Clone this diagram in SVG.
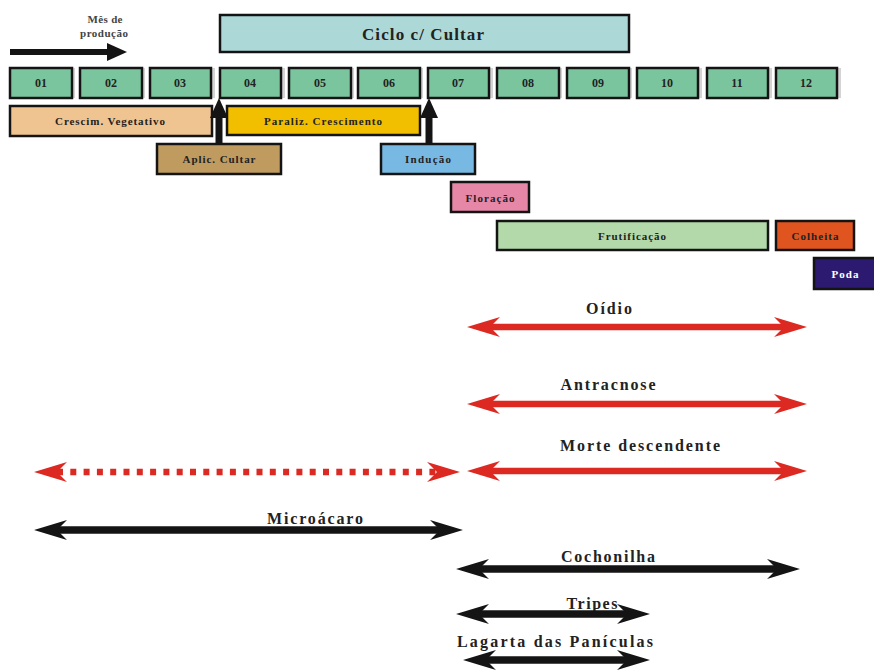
<svg xmlns="http://www.w3.org/2000/svg" width="874" height="670" viewBox="0 0 874 670">
<style>
text{font-family:"Liberation Serif","Times New Roman",serif;font-weight:bold;fill:#222;text-anchor:middle}
.box{stroke:#141414;stroke-width:2.5}
.m{fill:#7ac59e}
.sh{fill:#d4d4d4}
.t12{font-size:12px}
.t11{font-size:11px}
.t16{font-size:16px}
.red{stroke:#dc2a22;stroke-width:6.5;fill:none}
.blk{stroke:#141414;stroke-width:7.5;fill:none}
</style>
<defs>
<marker id="hr" markerUnits="userSpaceOnUse" viewBox="-11 -11 35 22" markerWidth="35" markerHeight="22" refX="0" refY="0" orient="auto-start-reverse">
<path d="M23,0 L-10,-10 L0,0 L-10,10 Z" fill="#dc2a22"/>
</marker>
<marker id="hb" markerUnits="userSpaceOnUse" viewBox="-11 -11 35 22" markerWidth="35" markerHeight="22" refX="0" refY="0" orient="auto-start-reverse">
<path d="M23,0 L-10,-10 L0,0 L-10,10 Z" fill="#141414"/>
</marker>
<marker id="hs" markerUnits="userSpaceOnUse" viewBox="-11 -11 35 22" markerWidth="35" markerHeight="22" refX="0" refY="0" orient="auto">
<path d="M20,0 L0,-9 L0,9 Z" fill="#141414"/>
</marker>
</defs>

<g id="mes-producao">
<text class="t11" x="105" y="23" style="fill:#444" textLength="35" lengthAdjust="spacing">Mês de</text>
<text class="t11" x="104" y="37" style="fill:#444" textLength="48" lengthAdjust="spacing">produção</text>
</g>

<g id="ciclo">
<rect class="box" x="220" y="15" width="409" height="37" fill="#acd9d8"/>
<text x="423" y="40" style="font-size:17px" textLength="122" lengthAdjust="spacing">Ciclo c/ Cultar</text>
</g>

<g id="m01"><rect class="sh" x="13" y="68" width="62" height="30"/><rect class="box m" x="10" y="68" width="62" height="30"/><text class="t12" x="41" y="87">01</text></g>
<g id="m02"><rect class="sh" x="83" y="68" width="62" height="30"/><rect class="box m" x="80" y="68" width="62" height="30"/><text class="t12" x="111" y="87">02</text></g>
<g id="m03"><rect class="sh" x="153" y="68" width="62" height="30"/><rect class="box m" x="150" y="68" width="61" height="30"/><text class="t12" x="180" y="87">03</text></g>
<g id="m04"><rect class="sh" x="223" y="68" width="62" height="30"/><rect class="box m" x="220" y="68" width="61" height="30"/><text class="t12" x="250" y="87">04</text></g>
<g id="m05"><rect class="sh" x="292" y="68" width="62" height="30"/><rect class="box m" x="289" y="68" width="62" height="30"/><text class="t12" x="320" y="87">05</text></g>
<g id="m06"><rect class="sh" x="361" y="68" width="62" height="30"/><rect class="box m" x="358" y="68" width="62" height="30"/><text class="t12" x="389" y="87">06</text></g>
<g id="m07"><rect class="sh" x="431" y="68" width="62" height="30"/><rect class="box m" x="428" y="68" width="61" height="30"/><text class="t12" x="458" y="87">07</text></g>
<g id="m08"><rect class="sh" x="500" y="68" width="62" height="30"/><rect class="box m" x="497" y="68" width="62" height="30"/><text class="t12" x="528" y="87">08</text></g>
<g id="m09"><rect class="sh" x="570" y="68" width="62" height="30"/><rect class="box m" x="567" y="68" width="62" height="30"/><text class="t12" x="598" y="87">09</text></g>
<g id="m10"><rect class="sh" x="640" y="68" width="62" height="30"/><rect class="box m" x="637" y="68" width="61" height="30"/><text class="t12" x="667" y="87">10</text></g>
<g id="m11"><rect class="sh" x="710" y="68" width="62" height="30"/><rect class="box m" x="707" y="68" width="61" height="30"/><text class="t12" x="737" y="87">11</text></g>
<g id="m12"><rect class="sh" x="779" y="68" width="62" height="30"/><rect class="box m" x="776" y="68" width="61" height="30"/><text class="t12" x="806" y="87">12</text></g>

<g id="crescim"><rect class="box" x="10" y="106" width="202" height="30" fill="#f0c491"/><text class="t11" x="110" y="125" textLength="110" lengthAdjust="spacing">Crescim. Vegetativo</text></g>
<g id="paraliz"><rect class="box" x="227" y="106" width="193" height="29" fill="#f2be00"/><text class="t11" x="323" y="125" textLength="118" lengthAdjust="spacing">Paraliz. Crescimento</text></g>
<g id="aplic"><rect class="box" x="157" y="144" width="124" height="30" fill="#bf9b5f"/><text class="t11" x="219" y="163" textLength="73" lengthAdjust="spacing">Aplic. Cultar</text></g>
<g id="inducao"><rect class="box" x="381" y="144" width="94" height="30" fill="#78b9e3"/><text class="t11" x="428" y="163" textLength="46" lengthAdjust="spacing">Indução</text></g>
<g id="floracao"><rect class="box" x="451" y="182" width="78" height="30" fill="#e687a8"/><text class="t11" x="490" y="202" textLength="49" lengthAdjust="spacing">Floração</text></g>
<g id="frutificacao"><rect class="box" x="497" y="221" width="271" height="29" fill="#b3d9aa"/><text class="t11" x="632" y="240" textLength="68" lengthAdjust="spacing">Frutificação</text></g>
<g id="colheita"><rect class="box" x="776" y="221" width="78" height="29" fill="#e05420"/><text class="t11" x="815" y="240" textLength="47" lengthAdjust="spacing">Colheita</text></g>
<g id="poda"><rect class="box" x="814" y="258" width="62" height="31" fill="#2b1a6f"/><text class="t11" x="845" y="278" style="fill:#fff" textLength="27" lengthAdjust="spacing">Poda</text></g>

<g id="labels">
<text class="t16" x="609" y="314" textLength="46" lengthAdjust="spacing">Oídio</text>
<text class="t16" x="608" y="390" textLength="95" lengthAdjust="spacing">Antracnose</text>
<text class="t16" x="640" y="451" textLength="160" lengthAdjust="spacing">Morte descendente</text>
<text class="t16" x="315" y="524" textLength="96" lengthAdjust="spacing">Microácaro</text>
<text class="t16" x="608" y="562" textLength="94" lengthAdjust="spacing">Cochonilha</text>
<text class="t16" x="592" y="609" textLength="51" lengthAdjust="spacing">Tripes</text>
<text class="t16" x="555" y="647" textLength="196" lengthAdjust="spacing">Lagarta das Panículas</text>
</g>

<g id="connectors">
<line x1="10" y1="52" x2="107" y2="52" stroke="#141414" stroke-width="6" marker-end="url(#hs)"/>
<line x1="219" y1="144" x2="219" y2="118" stroke="#141414" stroke-width="7" marker-end="url(#hs)"/>
<line x1="429" y1="144" x2="429" y2="118" stroke="#141414" stroke-width="7" marker-end="url(#hs)"/>
<line class="red" x1="490" y1="327" x2="784" y2="327" marker-start="url(#hr)" marker-end="url(#hr)"/>
<line class="red" x1="490" y1="404" x2="784" y2="404" marker-start="url(#hr)" marker-end="url(#hr)"/>
<line class="red" x1="490" y1="471" x2="784" y2="471" marker-start="url(#hr)" marker-end="url(#hr)"/>
<line class="red" x1="57" y1="472" x2="437" y2="472" stroke-dasharray="6 7.3" marker-start="url(#hr)" marker-end="url(#hr)"/>
<line class="blk" x1="57" y1="530" x2="440" y2="530" marker-start="url(#hb)" marker-end="url(#hb)"/>
<line class="blk" x1="479" y1="569" x2="777" y2="569" marker-start="url(#hb)" marker-end="url(#hb)"/>
<line class="blk" x1="479" y1="614" x2="627" y2="614" marker-start="url(#hb)" marker-end="url(#hb)"/>
<line class="blk" x1="486" y1="660" x2="627" y2="660" marker-start="url(#hb)" marker-end="url(#hb)"/>
</g>
</svg>
